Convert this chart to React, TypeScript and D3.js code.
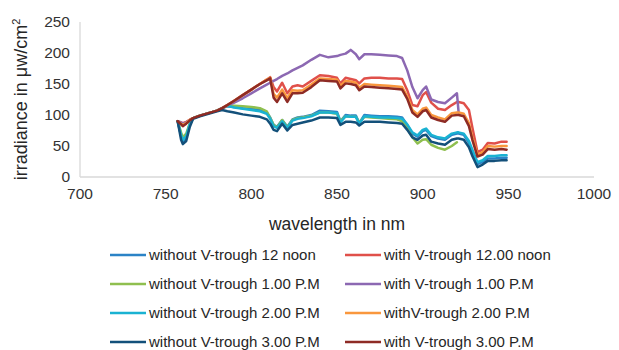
import React, { useRef, useEffect } from "react";
import * as d3 from "d3";

// wavelength (nm) shared by all series
const wavelengths = [
  757, 759, 760, 762, 764, 766, 770, 775, 780, 783,
  786, 790, 795, 800, 805, 809, 811, 813, 815, 818,
  821, 824, 827, 830, 835, 840, 845, 850, 852, 855,
  858, 861, 863, 866, 870, 875, 880, 885, 888, 891,
  894, 897, 900, 902, 905, 909, 913, 917, 920, 921,
  924, 927, 929, 932, 935, 938, 942, 946, 949,
];

const withoutNoon = [
  90, 66, 57, 63, 84, 95, 99, 103, 107, 111,
  114, 113, 111, 110, 108, 104, 96, 84, 81, 92,
  81, 93, 96, 97, 100, 107, 106, 105, 90, 100,
  99, 99, 87, 100, 99, 98, 98, 97, 96, 84,
  70, 65, 74, 76, 66, 62, 60, 68, 70, 70,
  68, 55, 40, 21, 24, 30, 30, 31, 31,
];
const withNoon = [
  90, 88, 87, 89, 92, 95, 99, 103, 107, 111,
  116, 123, 132, 141, 150, 157, 161, 145, 138, 152,
  135, 146, 148, 146, 155, 164, 163, 160, 151, 160,
  158, 156, 151, 159, 160, 160, 159, 159, 158, 140,
  116, 114, 132, 137, 120, 110, 108, 116, 121, 121,
  119, 108, 80, 40, 44, 55, 54, 57, 57,
];
const without1pm = [
  90, 72, 64, 70, 86, 95, 99, 103, 107, 111,
  115, 115, 114, 113, 111, 106, 95, 84, 80, 92,
  80, 92, 95, 96, 99, 104, 104, 102, 90, 98,
  97, 97, 88, 97, 96, 95, 94, 93, 90, 78,
  64, 54, 60, 61, 52, 47, 44, 50, 56,
];
const with1pm = [
  90, 88, 86, 88, 92, 95, 99, 103, 107, 111,
  115, 120, 127, 135, 143, 149, 152, 155, 158, 163,
  167, 172, 176, 180, 189, 197, 193, 195, 197, 199,
  205, 198, 190, 198, 198, 197, 196, 195, 192, 172,
  145, 127, 140, 146, 125, 121, 119, 128, 135, 104,
];
const without2pm = [
  90, 68, 60, 66, 85, 95, 99, 103, 107, 111,
  115, 112, 110, 108, 106, 102, 94, 82, 79, 90,
  79, 91, 94, 95, 98, 104, 104, 103, 88, 98,
  97, 97, 86, 98, 97, 96, 96, 95, 94, 85,
  72, 67, 76, 78, 68, 64, 62, 70, 72, 72,
  70, 58, 44, 24, 27, 34, 34, 35, 35,
];
const with2pm = [
  90, 86, 84, 87, 92, 95, 99, 103, 107, 111,
  116, 123, 132, 141, 150, 157, 160, 134, 128, 141,
  127, 140, 139, 140, 149, 159, 158, 157, 147, 155,
  154, 152, 144, 150, 149, 148, 147, 146, 145, 130,
  108, 101, 110, 112, 100, 96, 93, 103, 104, 104,
  102, 87, 64, 36, 40, 50, 49, 50, 50,
];
const without3pm = [
  90, 60, 53, 58, 80, 94, 98, 102, 106, 108,
  106, 104, 101, 99, 97, 93, 86, 76, 74, 86,
  75, 84, 86, 88, 91, 96, 96, 95, 84, 89,
  89, 88, 83, 89, 89, 89, 88, 87, 86, 76,
  64, 60, 67, 68, 57, 54, 52, 60, 62, 62,
  60, 48, 34, 16, 20, 26, 26, 27, 27,
];
const with3pm = [
  90, 85, 82, 86, 91, 95, 99, 103, 107, 111,
  116, 123, 132, 141, 150, 156, 159, 128, 121, 135,
  121, 135, 135, 136, 145, 156, 155, 154, 143, 151,
  150, 148, 140, 146, 145, 144, 143, 142, 141, 126,
  104, 97, 106, 108, 96, 92, 89, 99, 100, 100,
  98, 82, 60, 33, 36, 45, 44, 45, 44,
];

const seriesNames = [
  "without V-trough 12 noon",
  "with V-trough 12.00 noon",
  "without V-trough 1.00 P.M",
  "with V-trough 1.00 P.M",
  "without V-trough 2.00 P.M",
  "withV-trough 2.00 P.M",
  "without V-trough 3.00 P.M",
  "with V-trough 3.00 P.M",
];
const seriesValues = [
  withoutNoon, withNoon, without1pm, with1pm,
  without2pm, with2pm, without3pm, with3pm,
];
const seriesColors = [
  "#2b83c6", "#e0504a", "#8fbf4f", "#8c68b2",
  "#1ab2d2", "#f9973d", "#13507a", "#8e2b25",
];

const xTicks = [700, 750, 800, 850, 900, 950, 1000];
const yTicks = [0, 50, 100, 150, 200, 250];

const FONT = "'Liberation Sans', Arial, sans-serif";

const App = () => {
  const svgRef = useRef<SVGSVGElement>(null);

  useEffect(() => {
    const width = 619;
    const height = 350;
    const svg = d3.select(svgRef.current);
    svg.selectAll("*").remove();
    svg.attr("width", width).attr("height", height);

    const x = d3.scaleLinear().domain([700, 1000]).range([80, 594]);
    const y = d3.scaleLinear().domain([0, 250]).range([177, 22]);

    // axes lines
    svg.append("line")
      .attr("x1", x(700)).attr("x2", x(1000))
      .attr("y1", y(0)).attr("y2", y(0))
      .attr("stroke", "#d9d9d9").attr("stroke-width", 1.3);
    svg.append("line")
      .attr("x1", x(700)).attr("x2", x(700))
      .attr("y1", y(0)).attr("y2", y(250))
      .attr("stroke", "#d9d9d9").attr("stroke-width", 1.3);

    svg.append("g").selectAll("text")
      .data(xTicks)
      .join("text")
      .attr("x", d => x(d))
      .attr("y", 199)
      .attr("text-anchor", "middle")
      .attr("font-family", FONT)
      .attr("font-size", 15.5)
      .attr("fill", "#333")
      .text(d => d);

    svg.append("g").selectAll("text")
      .data(yTicks)
      .join("text")
      .attr("x", 70)
      .attr("y", d => y(d))
      .attr("dy", "0.35em")
      .attr("text-anchor", "end")
      .attr("font-family", FONT)
      .attr("font-size", 15.5)
      .attr("fill", "#333")
      .text(d => d);

    // axis titles
    svg.append("text")
      .attr("x", (x(700) + x(1000)) / 2)
      .attr("y", 230)
      .attr("text-anchor", "middle")
      .attr("font-family", FONT)
      .attr("font-size", 17.5)
      .attr("fill", "#262626")
      .text("wavelength in nm");

    const yTitle = svg.append("text")
      .attr("transform", `translate(27,${(y(0) + y(250)) / 2}) rotate(-90)`)
      .attr("text-anchor", "middle")
      .attr("font-family", FONT)
      .attr("font-size", 18)
      .attr("fill", "#262626");
    yTitle.append("tspan").text("irradiance in μw/cm");
    yTitle.append("tspan")
      .attr("font-size", 11)
      .attr("dy", -7)
      .text("2");

    // series lines
    const line = d3.line<[number, number]>()
      .x(d => x(d[0]))
      .y(d => y(d[1]));

    seriesValues.forEach((vals, i) => {
      const pts: [number, number][] = vals.map((v, j) => [wavelengths[j], v]);
      svg.append("path")
        .attr("d", line(pts))
        .attr("fill", "none")
        .attr("stroke", seriesColors[i])
        .attr("stroke-width", 2.5)
        .attr("stroke-linejoin", "round")
        .attr("stroke-linecap", "round");
    });

    // legend
    const legend = svg.append("g");
    const items = seriesNames.map((name, i) => ({
      name,
      color: seriesColors[i],
      col: i % 2,
      row: Math.floor(i / 2),
    }));
    const colX = [110, 345];
    const rowY = (r: number) => 255 + r * 29;

    legend.selectAll("line")
      .data(items)
      .join("line")
      .attr("x1", d => colX[d.col])
      .attr("x2", d => colX[d.col] + 36)
      .attr("y1", d => rowY(d.row))
      .attr("y2", d => rowY(d.row))
      .attr("stroke", d => d.color)
      .attr("stroke-width", 2.5);

    legend.selectAll("text")
      .data(items)
      .join("text")
      .attr("x", d => colX[d.col] + 39)
      .attr("y", d => rowY(d.row))
      .attr("dy", "0.35em")
      .attr("font-family", FONT)
      .attr("font-size", 15)
      .attr("fill", "#262626")
      .text(d => d.name);
  }, []);

  return (
    <div style={{ position: "absolute", left: 0, top: 0, width: 619, height: 350, background: "#fff" }}>
      <svg ref={svgRef} style={{ display: "block" }}></svg>
    </div>
  );
};

export default App;
